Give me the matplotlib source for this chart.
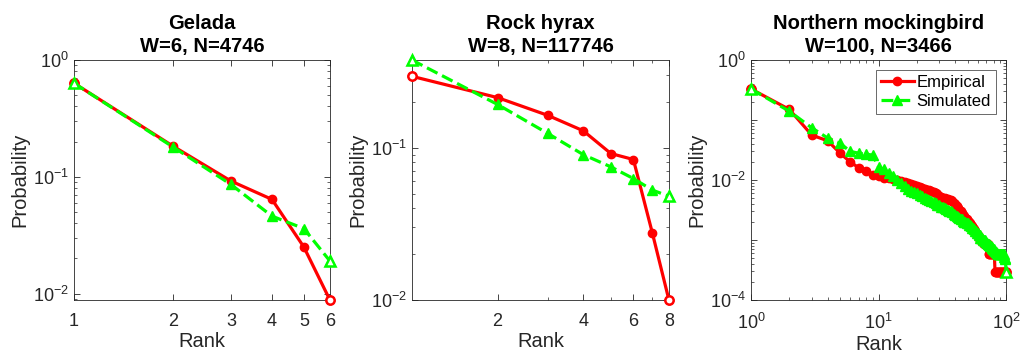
import numpy as np
import matplotlib
matplotlib.use('Agg')
import matplotlib.pyplot as plt
from matplotlib.ticker import LogLocator, FixedLocator, NullFormatter, FuncFormatter

plt.rcParams['font.family'] = ['Liberation Sans', 'DejaVu Sans']
plt.rcParams['mathtext.fontset'] = 'custom'
plt.rcParams['mathtext.rm'] = 'Liberation Sans'
plt.rcParams['mathtext.it'] = 'Liberation Sans'

# Gelada
gelada_rank = [1, 2, 3, 4, 5, 6]
gelada_emp = [0.634, 0.183, 0.092, 0.064, 0.025, 0.0088]
gelada_sim = [0.634, 0.180, 0.086, 0.046, 0.036, 0.019]

# Rock hyrax
hyrax_rank = [1, 2, 3, 4, 5, 6, 7, 8]
hyrax_emp = [0.294, 0.213, 0.163, 0.129, 0.0915, 0.0836, 0.0274, 0.0100]
hyrax_sim = [0.376, 0.192, 0.124, 0.090, 0.0748, 0.0627, 0.0526, 0.048]

# Northern mockingbird
bird_rank = list(range(1, 101))
bird_emp = [
    0.33, 0.15, 0.056, 0.045, 0.028, 0.020, 0.016, 0.014, 0.012, 0.0115,
    0.0110, 0.0107, 0.0104, 0.0101, 0.0097, 0.0093, 0.0089, 0.0085, 0.0082, 0.0079,
    0.0076, 0.0073, 0.0071, 0.0069, 0.0067, 0.0065, 0.0063, 0.0060, 0.0058, 0.0055,
    0.0053, 0.0051, 0.0050, 0.0049, 0.0048, 0.0047, 0.0046, 0.0044, 0.0042, 0.0040,
    0.0037, 0.0034, 0.0032, 0.0030, 0.0028, 0.0026, 0.0025, 0.0023, 0.0022, 0.0021,
    0.0020, 0.0019, 0.0018, 0.0017, 0.0016, 0.0015, 0.0014, 0.0013, 0.0012, 0.0012,
    0.0011, 0.0011, 0.0010, 0.0010, 0.00095, 0.00090, 0.00087, 0.00087, 0.00087, 0.00087,
    0.00087, 0.00087, 0.00058, 0.00058, 0.00058, 0.00058, 0.00058, 0.00058, 0.00058, 0.00058,
    0.00058, 0.00029, 0.00029, 0.00029, 0.00029, 0.00029, 0.00029, 0.00029, 0.00029, 0.00029,
    0.00029, 0.00029, 0.00029, 0.00029, 0.00029, 0.00029, 0.00029, 0.00029, 0.00029, 0.00029,
]
bird_sim = [
    0.33, 0.14, 0.074, 0.050, 0.041, 0.030, 0.028, 0.027, 0.026, 0.0166,
    0.0150, 0.0130, 0.0115, 0.0100, 0.0090, 0.0080, 0.0072, 0.0066, 0.0063, 0.0060,
    0.0057, 0.0054, 0.0051, 0.0049, 0.0047, 0.0045, 0.0043, 0.0041, 0.0039, 0.0038,
    0.0036, 0.0035, 0.0034, 0.0033, 0.0032, 0.0031, 0.0030, 0.0029, 0.0027, 0.0026,
    0.0025, 0.0024, 0.0023, 0.0022, 0.0022, 0.0021, 0.0020, 0.0020, 0.0019, 0.0019,
    0.0018, 0.0018, 0.0017, 0.0016, 0.0016, 0.0015, 0.0014, 0.0014, 0.0013, 0.0013,
    0.0012, 0.0012, 0.0011, 0.0011, 0.0011, 0.0010, 0.0010, 0.0010, 0.00095, 0.00092,
    0.00090, 0.00087, 0.00085, 0.00082, 0.00080, 0.00078, 0.00076, 0.00074, 0.00072, 0.00070,
    0.00068, 0.00066, 0.00064, 0.00062, 0.00060, 0.00058, 0.00058, 0.00058, 0.00058, 0.00058,
    0.00058, 0.00058, 0.00058, 0.00058, 0.00058, 0.00058, 0.00053, 0.00050, 0.00048, 0.00029,
]

axis_col = '#262626'


def pow_label(v, pos):
    e = int(round(np.log10(v)))
    return r'$10^{%d}$' % e


def draw_panel(ax, rank, emp, sim, title):
    ax.plot(rank, emp, '-o', color='red', lw=2.3, ms=6, mfc='red', label='Empirical', clip_on=False, zorder=3)
    ax.plot(rank, sim, '--^', color='#00ff00', lw=2.3, ms=7, mfc='#00ff00', label='Simulated', clip_on=False, zorder=4)
    # end points drawn hollow like the original
    ax.plot([rank[0], rank[-1]], [emp[0], emp[-1]], 'o', color='red', ms=6, mfc='white', mew=1.8, clip_on=False, zorder=3)
    ax.plot([rank[0], rank[-1]], [sim[0], sim[-1]], '^', color='#00ff00', ms=7, mfc='white', mew=1.8, clip_on=False, zorder=4)
    ax.set_xscale('log')
    ax.set_yscale('log')
    ax.set_title(title, fontsize=14.5, fontweight='bold', color='black', linespacing=1.25, pad=6)
    ax.set_xlabel('Rank', fontsize=14.5, color=axis_col, labelpad=2)
    ax.set_ylabel('Probability', fontsize=14.5, color=axis_col)
    ax.tick_params(which='both', direction='in', top=True, right=True, colors=axis_col, labelsize=13)
    ax.tick_params(which='major', length=4, width=0.6)
    ax.tick_params(which='minor', length=2.5, width=0.5)
    ax.tick_params(axis='x', pad=9)
    for s in ax.spines.values():
        s.set_color(axis_col)
        s.set_linewidth(0.6)


fig = plt.figure(figsize=(10.23, 3.59), dpi=100)
ax1 = fig.add_axes([0.0723, 0.1643, 0.2502, 0.6685])
ax2 = fig.add_axes([0.4027, 0.1643, 0.2512, 0.6685])
ax3 = fig.add_axes([0.7341, 0.1643, 0.2493, 0.6685])

# Gelada
draw_panel(ax1, gelada_rank, gelada_emp, gelada_sim, 'Gelada\nW=6, N=4746')
ax1.set_xlim(1, 6)
ax1.set_ylim(0.0088, 1)
ax1.xaxis.set_major_locator(FixedLocator(gelada_rank))
ax1.xaxis.set_major_formatter(FuncFormatter(lambda v, p: '%d' % v))
ax1.xaxis.set_minor_formatter(NullFormatter())
ax1.yaxis.set_major_locator(FixedLocator([0.01, 0.1, 1]))
ax1.yaxis.set_major_formatter(FuncFormatter(pow_label))

# Rock hyrax
draw_panel(ax2, hyrax_rank, hyrax_emp, hyrax_sim, 'Rock hyrax\nW=8, N=117746')
ax2.set_xlim(1, 8)
ax2.set_ylim(0.01, 0.376)
ax2.xaxis.set_major_locator(FixedLocator([2, 4, 6, 8]))
ax2.xaxis.set_major_formatter(FuncFormatter(lambda v, p: '%d' % v))
ax2.xaxis.set_minor_formatter(NullFormatter())
ax2.yaxis.set_major_locator(FixedLocator([0.01, 0.1]))
ax2.yaxis.set_major_formatter(FuncFormatter(pow_label))

# Northern mockingbird
draw_panel(ax3, bird_rank, bird_emp, bird_sim, 'Northern mockingbird\nW=100, N=3466')
ax3.set_xlim(1, 100)
ax3.set_ylim(1e-4, 1)
ax3.xaxis.set_major_locator(FixedLocator([1, 10, 100]))
ax3.xaxis.set_major_formatter(FuncFormatter(pow_label))
ax3.xaxis.set_minor_locator(LogLocator(base=10, subs=np.arange(2, 10)))
ax3.xaxis.set_minor_formatter(NullFormatter())
ax3.yaxis.set_major_locator(FixedLocator([1e-4, 1e-3, 1e-2, 1e-1, 1]))
ax3.yaxis.set_major_formatter(FuncFormatter(lambda v, p: pow_label(v, p) if int(round(np.log10(v))) % 2 == 0 else ''))
ax3.yaxis.set_minor_locator(LogLocator(base=10, subs=np.arange(2, 10)))
ax3.yaxis.set_minor_formatter(NullFormatter())

leg = ax3.legend(loc='upper right', fontsize=12, frameon=True, fancybox=False, edgecolor=axis_col,
                 handlelength=2.0, borderpad=0.3, labelspacing=0.25, handletextpad=0.15,
                 borderaxespad=0.6)
leg.get_frame().set_linewidth(0.6)

for ax in (ax1, ax2, ax3):
    ax.yaxis.set_label_coords(-0.175, 0.5)

fig.savefig('out.png', dpi=100)
